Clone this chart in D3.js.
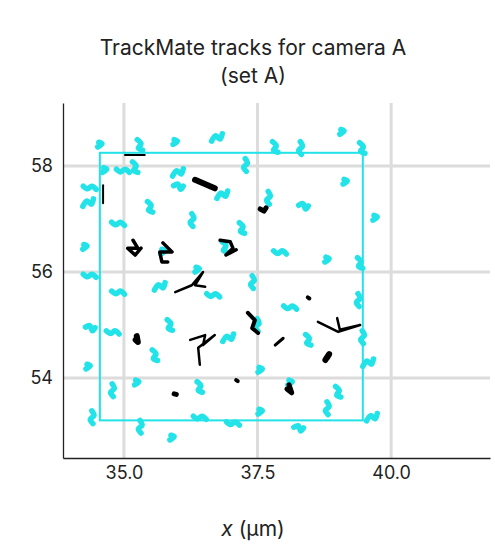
<!DOCTYPE html>
<html><head><meta charset="utf-8">
<script src="https://cdn.jsdelivr.net/npm/d3@7"></script>
<style>body{margin:0;background:#fff}text{font-family:Inter,"DejaVu Sans",sans-serif}</style>
</head><body>
<svg id="c" width="495" height="547"></svg>
<script>
const title = ["TrackMate tracks for camera A", "(set A)"];
const xDomain = [33.86, 41.85];
const yDomain = [52.49, 59.19];
const xTicks = [35.0, 37.5, 40.0];
const yTicks = [54, 56, 58];
const roi = {x0: 34.55, x1: 39.47, y0: 53.2, y1: 58.25};
// small track shapes (offsets in µm)
const shapes = [
  [[-0.08,0.05],[0,0.08],[0.05,-0.02],[0.1,0.04]],
  [[-0.05,0.1],[0.02,0.02],[-0.03,-0.06],[0.05,-0.1]],
  [[-0.12,0.02],[-0.04,-0.03],[0.04,0.02],[0.12,-0.04]],
  [[0,0.12],[0.04,0.03],[-0.03,-0.04],[0.02,-0.12]],
  [[-0.1,-0.06],[-0.02,0.04],[0.06,-0.02],[0.1,0.08]],
  [[-0.04,-0.04],[0.04,0.02],[-0.02,0.05]]
];
// cyan tracks: [x, y, shape]
const cyanTracks = [
[34.55,58.40,5],[35.30,58.40,1],[35.96,58.45,5],[36.74,58.53,4],[37.83,58.36,1],[38.30,58.34,3],[39.08,58.64,5],[39.46,58.34,1],
[34.64,57.92,5],[34.98,57.92,2],[35.21,57.98,1],[36.01,57.87,4],[37.27,58.02,3],[34.36,57.60,2],[36.01,57.58,0],[36.84,57.45,4],
[34.33,57.30,4],[35.49,57.23,1],[37.70,57.40,3],[39.14,57.70,5],[38.35,57.21,0],[39.70,57.02,5],[34.89,56.92,2],[36.27,56.98,3],
[37.21,56.83,1],[34.27,56.47,5],[35.73,56.38,5],[36.89,56.47,1],[37.92,56.38,2],[38.80,56.23,5],[39.42,56.17,1],[34.36,55.94,2],
[34.89,55.62,2],[35.67,55.72,4],[36.37,56.04,5],[37.40,55.81,3],[36.67,55.57,2],[39.38,55.47,3],[38.11,55.34,2],[35.86,55.00,1],
[34.36,54.91,0],[34.79,54.87,2],[36.95,54.75,4],[37.49,55.00,3],[38.45,54.72,1],[39.46,54.77,3],[35.58,54.43,1],[34.33,54.21,5],
[39.57,54.28,4],[37.55,54.15,5],[36.42,53.83,1],[35.24,53.91,5],[34.78,53.77,3],[39.01,53.74,1],[38.11,53.91,5],[38.80,53.43,3],
[34.40,53.26,3],[36.42,53.26,2],[37.55,53.36,5],[37.04,53.15,2],[35.30,53.08,3],[38.26,53.02,0],[39.64,53.25,4],[35.90,52.87,5]
];
const blackTracks = [
[[35.02,58.21],[35.39,58.21]],
[[34.61,57.64],[34.61,57.30]],
[[36.33,57.74],[36.70,57.58]],
[[37.55,57.19],[37.62,57.15],[37.66,57.21]],
[[35.17,56.60],[35.26,56.45],[35.07,56.45],[35.21,56.32],[35.32,56.45]],
[[35.73,56.55],[35.90,56.38],[35.67,56.38],[35.71,56.19],[35.82,56.19]],
[[36.80,56.60],[36.99,56.57],[37.04,56.45],[36.91,56.32],[37.10,56.42]],
[[35.96,55.62],[36.27,55.75],[36.48,56.00],[36.33,55.75],[36.52,55.72]],
[[35.24,54.79],[35.26,54.68],[35.22,54.72]],
[[36.24,54.72],[36.52,54.81],[36.48,54.62],[36.70,54.81],[36.39,54.57],[36.42,54.25]],
[[37.32,55.23],[37.45,55.09],[37.40,54.94],[37.51,54.85]],
[[37.83,54.62],[37.98,54.75]],
[[38.77,54.34],[38.84,54.45],[38.80,54.38]],
[[38.63,55.06],[39.01,54.87],[39.42,55.00],[39.04,54.91],[38.99,55.13]],
[[38.05,53.79],[38.14,53.72],[38.09,53.87]],
[[37.10,53.96],[37.13,53.94]],
[[35.94,53.70],[35.98,53.69]],
[[38.44,55.52],[38.47,55.50]]
];
const thick = [2,2,6,5,3.5,3.5,3.5,2.5,6,2.5,4,3,6,2.5,5,4,5,4];

const svg = d3.select("#c");
const m = {l:63, r:490, t:103, b:458};
const x = d3.scaleLinear().domain(xDomain).range([m.l, m.r]);
const y = d3.scaleLinear().domain(yDomain).range([m.b, m.t]);

const g = svg.append("g");
g.selectAll(".gx").data(xTicks).join("line").attr("x1",d=>x(d)).attr("x2",d=>x(d)).attr("y1",m.t).attr("y2",m.b).attr("stroke","#dcdcdc").attr("stroke-width",3);
g.selectAll(".gy").data(yTicks).join("line").attr("y1",d=>y(d)).attr("y2",d=>y(d)).attr("x1",m.l).attr("x2",m.r).attr("stroke","#dcdcdc").attr("stroke-width",3);

const line = d3.line().x(d=>x(d[0])).y(d=>y(d[1])).curve(d3.curveCatmullRom);
g.selectAll(".cy").data(cyanTracks).join("path")
  .attr("d",d=>line(shapes[d[2]].map(p=>[d[0]+p[0], d[1]+p[1]])))
  .attr("fill","none").attr("stroke","#22e3e8").attr("stroke-width",5.5).attr("stroke-linecap","round").attr("stroke-linejoin","round");

g.append("rect").attr("x",x(roi.x0)).attr("y",y(roi.y1)).attr("width",x(roi.x1)-x(roi.x0)).attr("height",y(roi.y0)-y(roi.y1))
  .attr("fill","none").attr("stroke","#22e3e8").attr("stroke-width",2);

const lin = d3.line().x(d=>x(d[0])).y(d=>y(d[1]));
g.selectAll(".bk").data(blackTracks).join("path")
  .attr("d",d=>lin(d)).attr("fill","none").attr("stroke","#000").attr("stroke-width",(d,i)=>thick[i])
  .attr("stroke-linecap","round").attr("stroke-linejoin","round");

const xa = svg.append("g").attr("transform",`translate(0,${m.b})`).call(d3.axisBottom(x).tickValues(xTicks).tickFormat(d3.format(".1f")).tickSizeOuter(0).tickSize(0).tickPadding(8));
const ya = svg.append("g").attr("transform",`translate(${m.l},0)`).call(d3.axisLeft(y).tickValues(yTicks).tickFormat(d3.format("d")).tickSizeOuter(0).tickSize(0).tickPadding(10));
[xa,ya].forEach(a=>{a.select(".domain").attr("stroke","#222").attr("stroke-width",1.3);a.selectAll("text").attr("font-size",18).attr("fill","#222");});

svg.append("text").attr("x",253).attr("y",55).attr("text-anchor","middle").attr("font-size",21).attr("fill","#222").text(title[0]);
svg.append("text").attr("x",253).attr("y",83).attr("text-anchor","middle").attr("font-size",21).attr("fill","#222").text(title[1]);
const xl = svg.append("text").attr("x",253).attr("y",536).attr("text-anchor","middle").attr("font-size",21).attr("fill","#222");
xl.append("tspan").attr("font-style","italic").text("x");
xl.append("tspan").text(" (μm)");
</script></body></html>
